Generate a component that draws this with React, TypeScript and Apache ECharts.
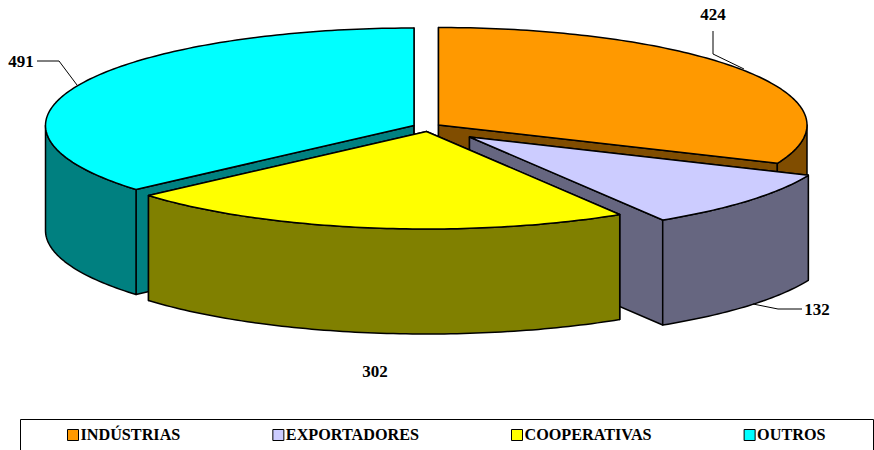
import React, { useEffect, useRef } from "react";
import * as echarts from "echarts";

const categories = ["INDÚSTRIAS", "EXPORTADORES", "COOPERATIVAS", "OUTROS"];
const values = [424, 132, 302, 491];
const topColors = ["#ff9900", "#ccccff", "#ffff00", "#00ffff"];
const sideColors = ["#804d00", "#666680", "#808000", "#008080"];
// explosion centre of every slice
const centers = [[438.5, 125], [469.5, 137], [426.5, 131.5], [414, 125.5]];
// painter's order: back to front
const drawZ = [2, 4, 5, 3];
const labelPos = [[713, 14], [817, 309], [375, 371], [21, 61]];
const leaders: number[][][] = [
  [[713, 31], [713, 54], [744, 69]],
  [[802, 309], [778, 309], [753, 304]],
  [],
  [[37, 61], [59, 61], [77, 85]],
];

const RX = 368.5;
const RY = 97.5;
const DEPTH = 105;
const FONT = "Liberation Serif";
const total = values.reduce((a, b) => a + b, 0);

function pt(c: number[], deg: number, dy = 0) {
  const r = (deg * Math.PI) / 180;
  return [c[0] + RX * Math.sin(r), c[1] - RY * Math.cos(r) + dy];
}
function arc(c: number[], a0: number, a1: number, dy = 0) {
  const out: number[][] = [];
  const n = Math.max(2, Math.ceil(Math.abs(a1 - a0)));
  for (let i = 0; i <= n; i++) out.push(pt(c, a0 + ((a1 - a0) * i) / n, dy));
  return out;
}

function App() {
  const ref = useRef<HTMLDivElement>(null);
  useEffect(() => {
    const chart = echarts.init(ref.current!, null, { renderer: "svg" });
    let acc = 0;
    const edge = { stroke: "#000", lineWidth: 1.5, lineJoin: "round" };
    const series = categories.map((name, i) => {
      const start = (acc / total) * 360;
      acc += values[i];
      const end = (acc / total) * 360;
      const c = centers[i];
      return {
        type: "custom",
        name,
        coordinateSystem: "none",
        z: drawZ[i],
        silent: true,
        itemStyle: { color: topColors[i] },
        data: [values[i]],
        renderItem: (_: any, api: any) => {
          const side = { ...edge, fill: sideColors[i] };
          const poly = (points: number[][], style: any) => ({ type: "polygon", shape: { points }, style });
          const children: any[] = [];
          const radial = (a: number) => {
            const p = pt(c, a);
            children.push(poly([c, p, [p[0], p[1] + DEPTH], [c[0], c[1] + DEPTH]], side));
          };
          radial(start);
          radial(end);
          const f0 = Math.max(start, 90);
          const f1 = Math.min(end, 270);
          if (f1 > f0) {
            children.push(poly([...arc(c, f0, f1), ...arc(c, f1, f0, DEPTH)], side));
          }
          children.push(poly([c, ...arc(c, start, end)], { ...edge, fill: topColors[i] }));
          const leader = leaders[i];
          if (leader.length) {
            children.push({
              type: "polyline",
              shape: { points: leader },
              style: { stroke: "#000", lineWidth: 1, fill: "none" },
            });
          }
          children.push({
            type: "text",
            x: labelPos[i][0],
            y: labelPos[i][1],
            style: {
              text: String(api.value(0)),
              fill: "#000",
              font: `bold 17px "${FONT}"`,
              align: "center",
              verticalAlign: "middle",
            },
          });
          return { type: "group", children };
        },
      };
    });
    chart.setOption({
      animation: false,
      backgroundColor: "#fff",
      graphic: [
        {
          type: "rect",
          z: 0,
          shape: { x: 20.5, y: 419.5, width: 853, height: 40 },
          style: { fill: "#fff", stroke: "#000", lineWidth: 1 },
        },
      ],
      legend: {
        data: categories,
        left: 67,
        top: 427,
        padding: 0,
        icon: "rect",
        itemWidth: 11,
        itemHeight: 11,
        itemGap: 92,
        selectedMode: false,
        itemStyle: { borderColor: "#000", borderWidth: 1 },
        textStyle: { color: "#000", fontFamily: FONT, fontWeight: "bold", fontSize: 16.2, padding: [0, 0, 0, -3] },
      },
      series,
    });
    return () => chart.dispose();
  }, []);
  return <div ref={ref} style={{ position: "absolute", left: 0, top: 0, width: 874, height: 450 }} />;
}

export default App;
